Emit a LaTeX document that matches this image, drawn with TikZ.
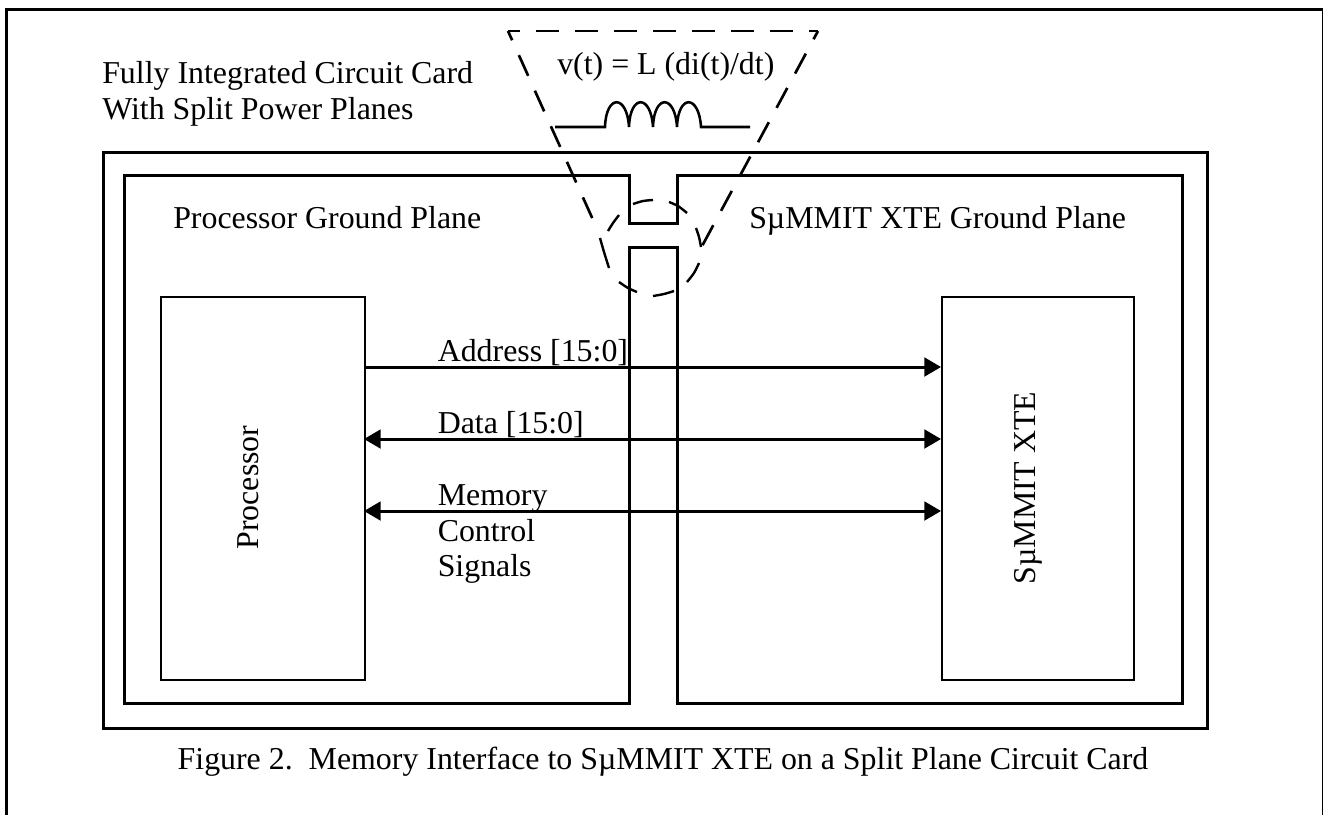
\documentclass[tikz,border=0pt]{standalone}
\usepackage{fontspec}
\setmainfont{Liberation Serif}
\usetikzlibrary{arrows.meta}
\tikzset{
 wire/.style={line width=2.25pt,line join=miter},
 thin wire/.style={line width=1.5pt},
 dash wire/.style={line width=2pt,dash pattern=on 17pt off 12.25pt},
 hand dash/.style={line width=1.8pt},
 lbl/.style={inner sep=0pt,font=\fontsize{23.9}{28}\selectfont,text=black},
 bus/.style={line width=2.25pt},
 tipR/.style={-{Triangle[length=12.5pt,width=14pt]}},
 tipB/.style={{Triangle[length=12.5pt,width=14pt]}-{Triangle[length=12.5pt,width=14pt]}},
}
\begin{document}
\begin{tikzpicture}[x=0.75pt,y=-0.75pt]
\useasboundingbox (0,0) rectangle (1323,815);
\coordinate (fbl) at (6,815); \coordinate (ftl) at (6,9);
\coordinate (ftr) at (1323,9); \coordinate (fbr) at (1323,815);
\begin{scope}
\clip (0,0) rectangle (1323,815);
\draw[wire] (fbl) -- (ftl) -- (ftr) -- (fbr);
\end{scope}
\node[draw,wire,minimum width=828pt,minimum height=432pt,inner sep=0pt,anchor=north west] (card) at (102,151) {};
\draw[wire] (629,247) -- (677,247) -- (677,703) -- (1182,703) -- (1182,175) -- (677,175) -- (677,223) -- (629,223) -- (629,175) -- (124,175) -- (124,703) -- (629,703) -- cycle;
\node[draw,thin wire,minimum width=153pt,minimum height=287.25pt,inner sep=0pt,anchor=north west] (proc) at (160,296) {};
\node[draw,thin wire,minimum width=144pt,minimum height=287.25pt,inner sep=0pt,anchor=north west] (sum) at (941,296) {};
\node[lbl,rotate=90] (proct) at (248,487.5) {Processor};
\node[lbl,rotate=90] (sumt) at (1028,488) {SµMMIT XTE};
\coordinate (a1) at (364,367); \coordinate (a2) at (941,367);
\coordinate (d1) at (364,439); \coordinate (d2) at (941,439);
\coordinate (m1) at (364,511); \coordinate (m2) at (941,511);
\draw[bus,tipR] (a1) -- (a2);
\draw[bus,tipB] (d1) -- (d2);
\draw[bus,tipB] (m1) -- (m2);
\node[lbl,anchor=base west] (la) at (437.5,361) {Address [15:0]};
\node[lbl,anchor=base west] (ld) at (437.5,433) {Data [15:0]};
\node[lbl,anchor=base west] (lm1) at (437.5,505) {Memory};
\node[lbl,anchor=base west] (lm2) at (437.5,541) {Control};
\node[lbl,anchor=base west] (lm3) at (437.5,576) {Signals};
\node[lbl,anchor=base west] (lp) at (173,228) {Processor Ground Plane};
\node[lbl,anchor=base west] (ls) at (749,228) {SµMMIT XTE Ground Plane};
\node[lbl,anchor=base west] (lt1) at (102,83) {Fully Integrated Circuit Card};
\node[lbl,anchor=base west] (lt2) at (102,119) {With Split Power Planes};
\node[lbl,anchor=base west] (lv) at (557,74) {v(t) = L (di(t)/dt)};
\node[lbl,anchor=base] (cap) at (663,769) {Figure 2.\ \ Memory Interface to SµMMIT XTE on a Split Plane Circuit Card};
\coordinate (i1) at (555,127); \coordinate (i2) at (605,127);
\coordinate (i3) at (701,127); \coordinate (i4) at (750,127);
\draw[wire,line width=1.9pt] (i1) -- (i2)
  .. controls (606,94) and (627,94) .. (629,127)
  .. controls (630,94) and (651,94) .. (653,127)
  .. controls (654,94) and (675,94) .. (677,127)
  .. controls (678,94) and (699,94) .. (701,127) -- (i4);
\coordinate (c1) at (594,222); \coordinate (c2) at (508,31);
\coordinate (c3) at (818,31); \coordinate (c4) at (701,248);
\draw[dash wire,dash phase=9.4pt] (c2) -- (c1);
\draw[dash wire,dash phase=8.25pt] (c2) -- (c3);
\draw[dash wire,dash phase=10pt] (c3) -- (c4);
% hand-drawn dashed loop round the gap
\draw[hand dash] plot[smooth] coordinates {(633,204) (643,201) (653,200)};
\draw[hand dash] plot[smooth] coordinates {(669,202) (678,206) (687,213)};
\draw[hand dash] plot[smooth] coordinates {(696,228) (699,237) (701,247)};
\draw[hand dash] plot[smooth] coordinates {(699,263) (694,273) (687,282)};
\draw[hand dash] plot[smooth] coordinates {(674,291) (664,294) (653,296)};
\draw[hand dash] plot[smooth] coordinates {(637,292) (628,288) (619,282)};
\draw[hand dash] plot[smooth] coordinates {(609,268) (604,252) (600,238)};
\draw[hand dash] plot[smooth] coordinates {(608,231) (613,223) (619,215)};
\end{tikzpicture}
\end{document}
